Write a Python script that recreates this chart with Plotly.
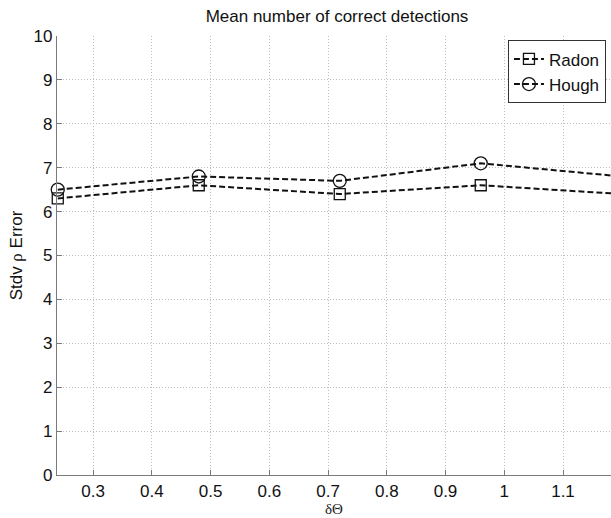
import plotly.graph_objects as go

# Step size of the orientation quantisation (delta theta)
delta_theta = [0.24, 0.48, 0.72, 0.96, 1.20]

# Std. deviation of rho error per method
radon_vals = [6.3, 6.6, 6.4, 6.6, 6.4]
hough_vals = [6.5, 6.8, 6.7, 7.1, 6.8]

x_ticks = [0.3, 0.4, 0.5, 0.6, 0.7, 0.8, 0.9, 1.0, 1.1]
x_tick_text = ["0.3", "0.4", "0.5", "0.6", "0.7", "0.8", "0.9", "1", "1.1"]
y_ticks = list(range(0, 11))

SANS = "Liberation Sans, Arial"
SERIF = "Liberation Serif, Times New Roman"

fig = go.Figure()

fig.add_trace(go.Scatter(
    x=delta_theta, y=radon_vals, name="Radon", mode="lines+markers",
    line=dict(color="#111", width=2, dash="6px,3px"),
    marker=dict(symbol="square-open", size=11, color="#111", line=dict(width=1.3)),
    cliponaxis=False,
))
fig.add_trace(go.Scatter(
    x=delta_theta, y=hough_vals, name="Hough", mode="lines+markers",
    line=dict(color="#111", width=2, dash="6px,3px"),
    marker=dict(symbol="circle-open", size=13, color="#111", line=dict(width=1.3)),
    cliponaxis=False,
))

axis_common = dict(
    showgrid=True, gridcolor="#bdbdbd", griddash="1px,2px", gridwidth=1,
    showline=True, linecolor="#7a7a7a", linewidth=1.3,
    ticks="inside", ticklen=5, tickcolor="#7a7a7a",
    tickfont=dict(family=SANS, size=17, color="#111"),
    zeroline=False,
)

fig.update_layout(
    width=611, height=518,
    margin=dict(l=57, r=0, t=36, b=43),
    paper_bgcolor="white", plot_bgcolor="white",
    title=dict(
        text="Mean number of correct detections",
        x=(337 / 611), xanchor="center", y=1 - 16 / 518, yanchor="middle",
        font=dict(family=SANS, size=17, color="#111"),
    ),
    xaxis=dict(
        range=[0.2387, 1.1817], tickvals=x_ticks, ticktext=x_tick_text,
        title=dict(text="δΘ", standoff=2,
                   font=dict(family=SERIF, size=15, color="#222")),
        **axis_common,
    ),
    yaxis=dict(
        range=[0, 10], tickvals=y_ticks,
        title=dict(text=f'Stdv <span style="font-family:{SERIF}">ρ</span> Error',
                   standoff=6,
                   font=dict(family=SANS, size=17, color="#111")),
        **axis_common,
    ),
    legend=dict(
        x=0.814, y=0.99, xanchor="left", yanchor="top",
        bgcolor="white", bordercolor="#333", borderwidth=1,
        font=dict(family=SANS, size=17, color="#111"),
        itemwidth=30, tracegroupgap=0,
    ),
    showlegend=True,
)

fig.write_html("out.html")
